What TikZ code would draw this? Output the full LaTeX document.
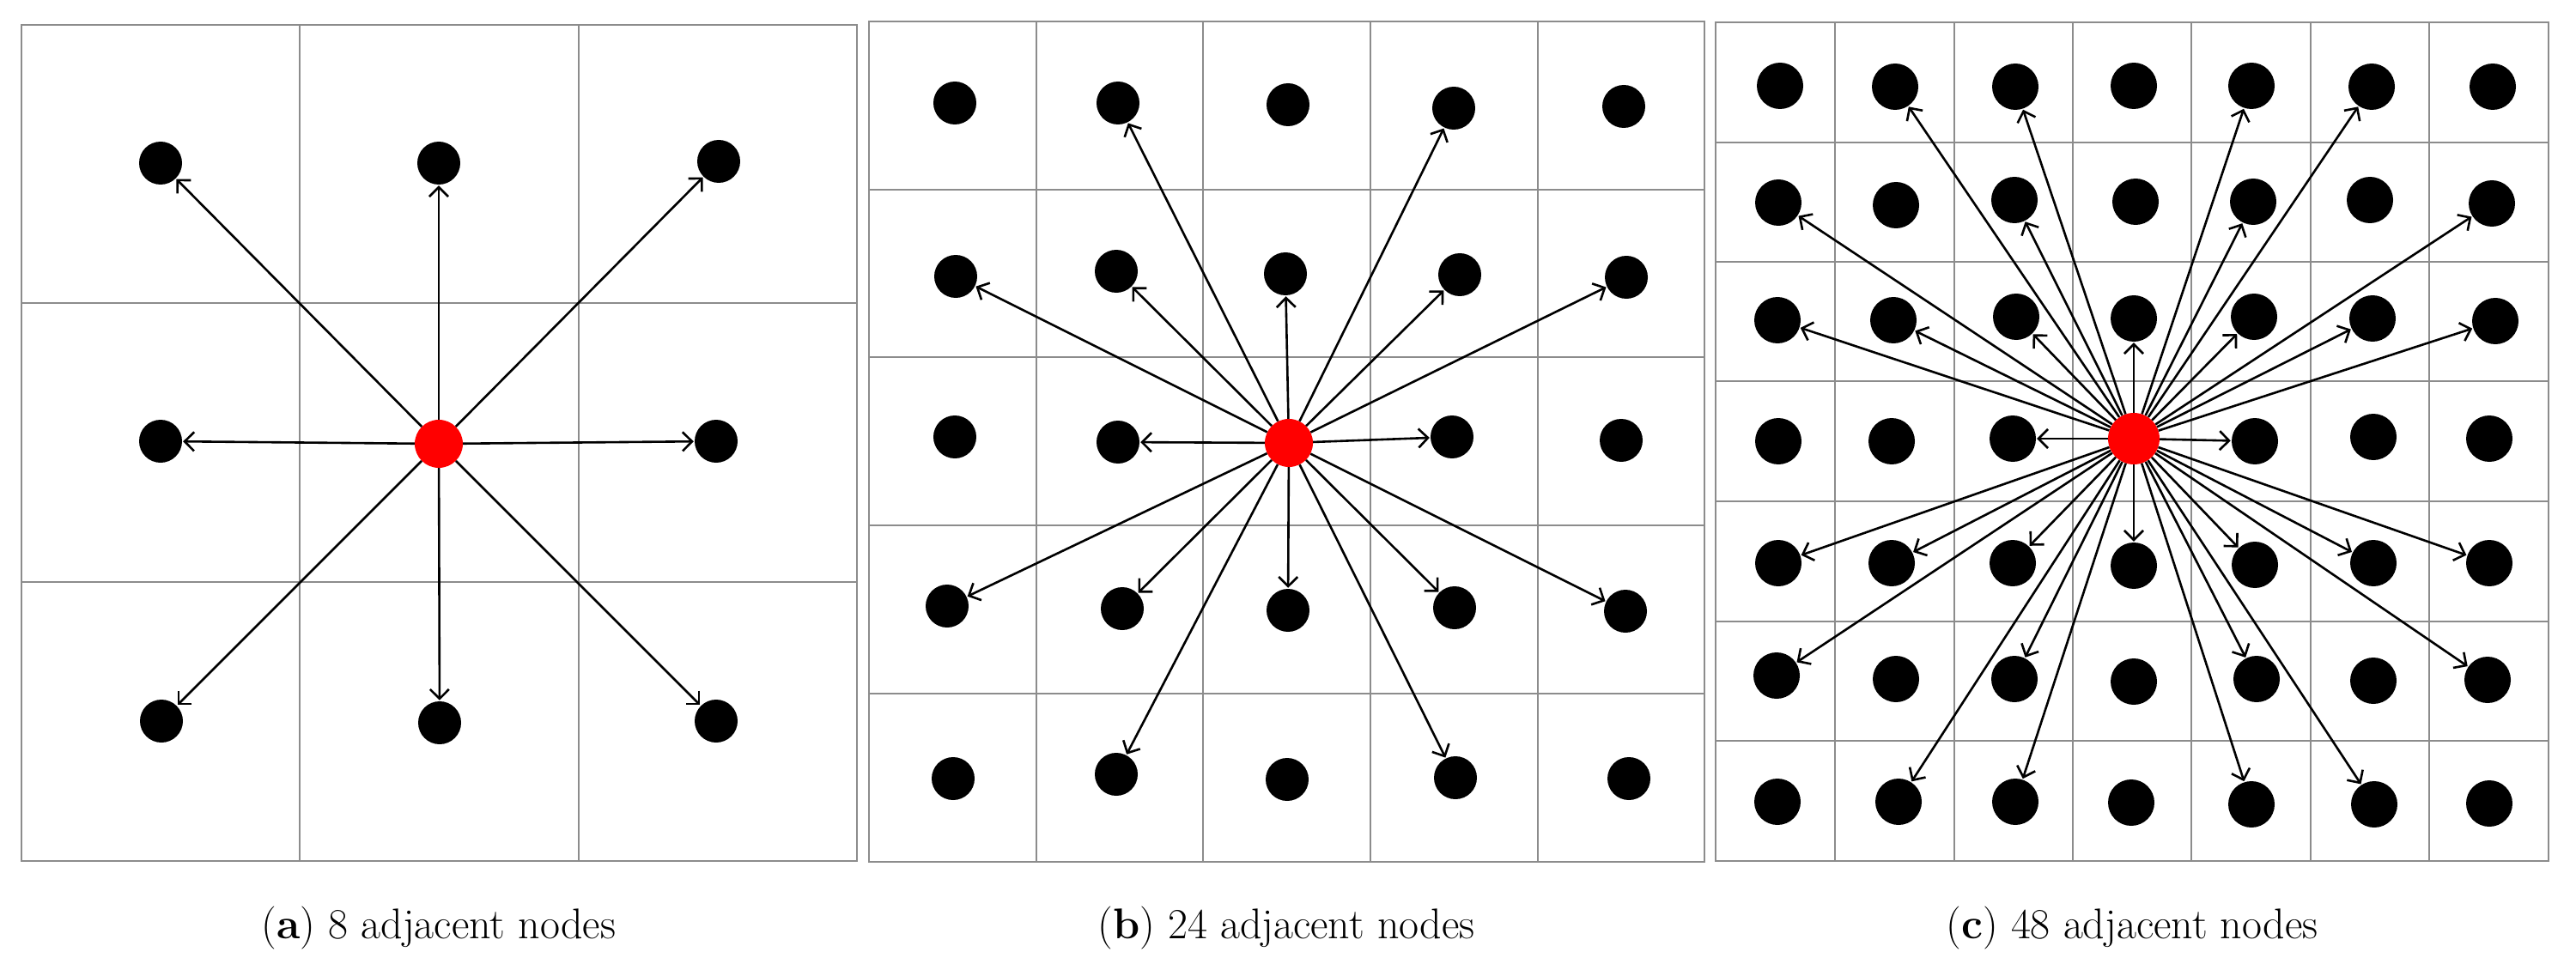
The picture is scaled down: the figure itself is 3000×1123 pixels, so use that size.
\documentclass[tikz,border=0pt]{standalone}
\usetikzlibrary{arrows.meta}
\begin{document}
\begin{tikzpicture}[x=1pt,y=-1pt,
  grid/.style={draw=black!45,line width=2pt},
  dot/.style={circle,fill=black,inner sep=0pt,minimum size=50pt},
  dotc/.style={circle,fill=black,inner sep=0pt,minimum size=54pt},
  srcdot/.style={circle,fill=red,inner sep=0pt,minimum size=56pt},
  srcdotc/.style={circle,fill=red,inner sep=0pt,minimum size=60pt},
  arr/.style={line width=2.6pt,-{Straight Barb[length=11pt,width=22pt,line width=2.6pt]},shorten >=1pt},
  captxt/.style={anchor=base,font=\fontsize{50}{60}\selectfont}]
\useasboundingbox (0,0) rectangle (3000,1123);
% ---------- panel a ----------
\foreach \x in {348.8,673.7} \draw[grid] (\x,28.7) -- (\x,1003);
\foreach \y in {353.2,678.4} \draw[grid] (25.3,\y) -- (997.9,\y);
\draw[grid] (25.3,28.7) rectangle (997.9,1003);
\node[dot] (a11) at (187,190) {};
\node[dot] (a12) at (511,190) {};
\node[dot] (a13) at (837,188) {};
\node[dot] (a21) at (187,514) {};
\node[dot] (a23) at (834,514) {};
\node[dot] (a31) at (188,840) {};
\node[dot] (a32) at (512,842) {};
\node[dot] (a33) at (834,840) {};
\node[srcdot] (ac) at (511,517) {};
\foreach \t in {a11,a12,a13,a21,a23,a31,a32,a33} \draw[arr] (ac) -- (\t);
% ---------- panel b ----------
\foreach \x in {1206.6,1400.5,1595.7,1790.8} \draw[grid] (\x,24.7) -- (\x,1004);
\foreach \y in {220.6,416.4,612.3,808.1} \draw[grid] (1011.5,\y) -- (1985.3,\y);
\draw[grid] (1011.5,24.7) rectangle (1985.3,1004);
\node[dot] (b11) at (1112,120) {};
\node[dot] (b12) at (1302,120) {};
\node[dot] (b13) at (1500,122) {};
\node[dot] (b14) at (1693,126) {};
\node[dot] (b15) at (1891,124) {};
\node[dot] (b21) at (1113,322) {};
\node[dot] (b22) at (1300,316) {};
\node[dot] (b23) at (1497,319) {};
\node[dot] (b24) at (1700,320) {};
\node[dot] (b25) at (1894,323) {};
\node[dot] (b31) at (1112,509) {};
\node[dot] (b32) at (1302,515) {};
\node[dot] (b34) at (1691,509) {};
\node[dot] (b35) at (1888,513) {};
\node[dot] (b41) at (1103,706) {};
\node[dot] (b42) at (1307,709) {};
\node[dot] (b43) at (1500,711) {};
\node[dot] (b44) at (1694,708) {};
\node[dot] (b45) at (1893,712) {};
\node[dot] (b51) at (1110,907) {};
\node[dot] (b52) at (1300,902) {};
\node[dot] (b53) at (1499,908) {};
\node[dot] (b54) at (1695,906) {};
\node[dot] (b55) at (1897,907) {};
\node[srcdot] (bc) at (1501,516) {};
\foreach \t in {b12,b14,b21,b22,b23,b24,b25,b32,b34,b41,b42,b43,b44,b45,b52,b54}
  \draw[arr] (bc) -- (\t);
% ---------- panel c ----------
\foreach \x in {2136.5,2275.5,2413.9,2551.7,2691.3,2829.1} \draw[grid] (\x,26) -- (\x,1003);
\foreach \y in {166,305,444,583.6,723.5,863.4} \draw[grid] (1998,\y) -- (2968,\y);
\draw[grid] (1998,26) rectangle (2968,1003);
\node[dotc] (c11) at (2073,100) {};
\node[dotc] (c12) at (2207,101) {};
\node[dotc] (c13) at (2347,101) {};
\node[dotc] (c14) at (2485,100) {};
\node[dotc] (c15) at (2622,100) {};
\node[dotc] (c16) at (2762,101) {};
\node[dotc] (c17) at (2903,101) {};
\node[dotc] (c21) at (2071,236) {};
\node[dotc] (c22) at (2208,239) {};
\node[dotc] (c23) at (2346,233) {};
\node[dotc] (c24) at (2487,235) {};
\node[dotc] (c25) at (2624,235) {};
\node[dotc] (c26) at (2760,233) {};
\node[dotc] (c27) at (2902,237) {};
\node[dotc] (c31) at (2070,373) {};
\node[dotc] (c32) at (2205,373) {};
\node[dotc] (c33) at (2348,369) {};
\node[dotc] (c34) at (2485,371) {};
\node[dotc] (c35) at (2625,369) {};
\node[dotc] (c36) at (2763,371) {};
\node[dotc] (c37) at (2906,374) {};
\node[dotc] (c41) at (2071,514) {};
\node[dotc] (c42) at (2203,514) {};
\node[dotc] (c43) at (2344,511) {};
\node[dotc] (c45) at (2626,514) {};
\node[dotc] (c46) at (2764,509) {};
\node[dotc] (c47) at (2899,511) {};
\node[dotc] (c51) at (2071,656) {};
\node[dotc] (c52) at (2203,656) {};
\node[dotc] (c53) at (2344,656) {};
\node[dotc] (c54) at (2485,659) {};
\node[dotc] (c55) at (2626,658) {};
\node[dotc] (c56) at (2764,656) {};
\node[dotc] (c57) at (2899,656) {};
\node[dotc] (c61) at (2069,787) {};
\node[dotc] (c62) at (2208,791) {};
\node[dotc] (c63) at (2346,791) {};
\node[dotc] (c64) at (2485,794) {};
\node[dotc] (c65) at (2628,791) {};
\node[dotc] (c66) at (2764,793) {};
\node[dotc] (c67) at (2897,792) {};
\node[dotc] (c71) at (2070,934) {};
\node[dotc] (c72) at (2211,934) {};
\node[dotc] (c73) at (2347,934) {};
\node[dotc] (c74) at (2482,935) {};
\node[dotc] (c75) at (2622,937) {};
\node[dotc] (c76) at (2765,937) {};
\node[dotc] (c77) at (2899,936) {};
\node[srcdotc] (cc) at (2485,511) {};
\foreach \t in {c12,c13,c15,c16,c21,c23,c25,c27,c31,c32,c33,c34,c35,c36,c37,c43,c45,
  c51,c52,c53,c54,c55,c56,c57,c61,c63,c65,c67,c72,c73,c75,c76}
  \draw[arr] (cc) -- (\t);
% ---------- captions ----------
\node[captxt] (capa) at (511,1093) {(\textbf{a}) 8 adjacent nodes};
\node[captxt] (capb) at (1498,1093) {(\textbf{b}) 24 adjacent nodes};
\node[captxt] (capc) at (2483,1093) {(\textbf{c}) 48 adjacent nodes};
\end{tikzpicture}
\end{document}
